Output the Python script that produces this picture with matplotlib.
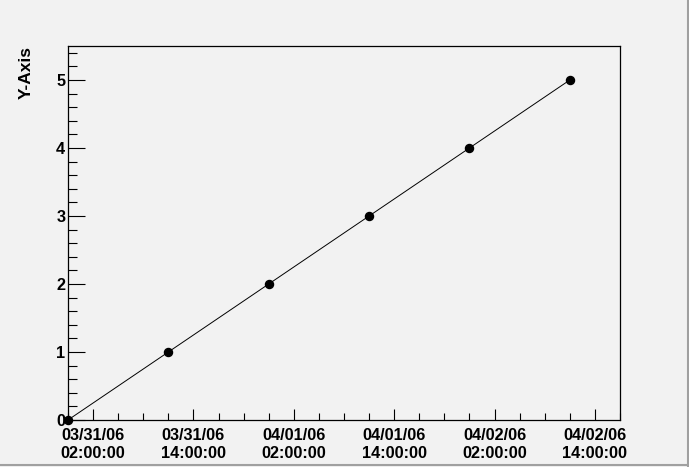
import datetime as dt
import matplotlib
matplotlib.use('Agg')
import matplotlib.pyplot as plt
import matplotlib.dates as mdates
from matplotlib.lines import Line2D

# Six points, 12 hours apart
t0 = dt.datetime(2006, 3, 30, 23, 0, 0)
hours = [0, 12, 24, 36, 48, 60]
yvals = [0, 1, 2, 3, 4, 5]
times = [t0 + dt.timedelta(hours=h) for h in hours]

plt.rcParams['font.family'] = ['Liberation Sans', 'DejaVu Sans']
plt.rcParams['font.weight'] = 'bold'

bg = '#f2f2f2'
fig = plt.figure(figsize=(6.89, 4.67), dpi=100, facecolor=bg)
ax = fig.add_axes([68 / 689, 47 / 467, 552 / 689, 374 / 467])
ax.set_facecolor(bg)

ax.plot(times, yvals, color='black', lw=0.7, marker='o', markersize=5.8,
        clip_on=False, zorder=3)

ax.set_xlim(t0, t0 + dt.timedelta(hours=66))
ax.set_ylim(0, 5.5)

ax.xaxis.set_major_locator(mdates.HourLocator(byhour=[2, 14]))
ax.xaxis.set_minor_locator(mdates.HourLocator(byhour=range(2, 24, 3)))
ax.xaxis.set_major_formatter(mdates.DateFormatter('%m/%d/%y\n%H:%M:%S'))
ax.set_yticks([0, 1, 2, 3, 4, 5])
ax.set_yticks([i / 5 for i in range(0, 28)], minor=True)

ax.tick_params(axis='x', which='major', direction='in', length=8, width=0.8,
               labelsize=11.7, pad=6)
ax.tick_params(axis='x', which='minor', direction='in', length=5, width=0.8)
ax.tick_params(axis='y', which='major', direction='in', length=12.5, width=0.8,
               labelsize=11.7, pad=2)
ax.tick_params(axis='y', which='minor', direction='in', length=6.5, width=0.8)
for lab in ax.get_xticklabels() + ax.get_yticklabels():
    lab.set_fontweight('bold')
    lab.set_linespacing(1.2)

for sp in ax.spines.values():
    sp.set_linewidth(0.9)
    sp.set_color('black')

ax.set_ylabel('Y-Axis', fontsize=12.5, fontweight='bold', loc='top')
ax.yaxis.set_label_coords(-0.062, 1.0)

# canvas bevel edges
fig.add_artist(Line2D([687.5 / 689, 687.5 / 689], [0, 1], color='#a0a0a0', lw=1.5,
                      transform=fig.transFigure))
fig.add_artist(Line2D([0, 1], [2 / 467, 2 / 467], color='#a0a0a0', lw=1.5,
                      transform=fig.transFigure))

fig.savefig('out.png', dpi=100, facecolor=bg)
